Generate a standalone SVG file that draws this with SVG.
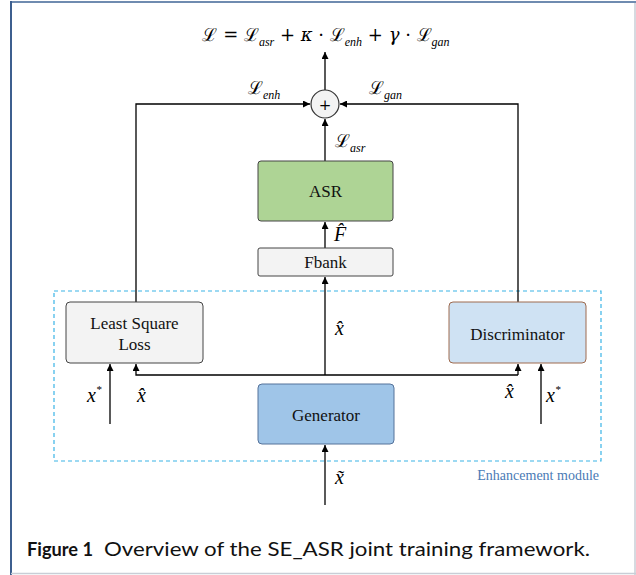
<svg xmlns="http://www.w3.org/2000/svg" width="636" height="575" viewBox="0 0 636 575">
<defs>
<marker id="ah" viewBox="0 0 10 10" refX="10" refY="5" markerWidth="7" markerHeight="7" markerUnits="userSpaceOnUse" orient="auto">
<path d="M0,0 L10,5 L0,10 z" fill="#000"/>
</marker>
</defs>
<style>
.ln{fill:none;stroke:#000;stroke-width:1.3}
.box{stroke:#444;stroke-width:1}
.lbl{font-family:"Liberation Serif",serif;font-size:17px;fill:#111}
.m{font-family:"DejaVu Serif","Liberation Serif",serif;font-size:18px;fill:#000}
.mi{font-family:"Liberation Serif",serif;font-style:italic;font-size:20px;fill:#000}
.sub{font-family:"Liberation Serif",serif;font-style:italic;font-size:12px}
</style>
<rect x="0" y="0" width="636" height="575" fill="#fff"/>
<line x1="11" y1="2" x2="636" y2="2" stroke="#6f8bb0" stroke-width="2"/>
<line x1="11" y1="1" x2="11" y2="575" stroke="#3d5f8f" stroke-width="2"/>
<line x1="635" y1="3" x2="635" y2="575" stroke="#c8ced6" stroke-width="1.5"/>
<line x1="11" y1="573.5" x2="636" y2="573.5" stroke="#c8ced6" stroke-width="1.5"/>

<text class="m" x="326" y="41" text-anchor="middle">ℒ = ℒ<tspan class="sub" dy="5">asr</tspan><tspan dy="-5"> + </tspan><tspan font-style="italic">κ</tspan> · ℒ<tspan class="sub" dy="5">enh</tspan><tspan dy="-5"> + </tspan><tspan font-style="italic">γ</tspan> · ℒ<tspan class="sub" dy="5">gan</tspan></text>

<rect x="54" y="291" width="547" height="170" fill="none" stroke="#3ab4e6" stroke-width="1.2" stroke-dasharray="4,3"/>
<text x="599" y="480" text-anchor="end" font-family="Liberation Serif,serif" font-size="14" fill="#4a7ab5">Enhancement module</text>

<g id="connectors">
<line class="ln" x1="325" y1="90" x2="325" y2="52" marker-end="url(#ah)"/>
<polyline class="ln" points="136,302 136,104 310,104" marker-end="url(#ah)"/>
<polyline class="ln" points="518,302 518,104 340,104" marker-end="url(#ah)"/>
<line class="ln" x1="325" y1="161" x2="325" y2="119" marker-end="url(#ah)"/>
<line class="ln" x1="325" y1="248" x2="325" y2="222" marker-end="url(#ah)"/>
<line class="ln" x1="325" y1="375" x2="325" y2="277" marker-end="url(#ah)"/>
<polyline class="ln" points="518,375 136,375 136,364" marker-end="url(#ah)"/>
<line class="ln" x1="518" y1="375" x2="518" y2="364" marker-end="url(#ah)"/>
<line class="ln" x1="110" y1="424" x2="110" y2="364" marker-end="url(#ah)"/>
<line class="ln" x1="541" y1="424" x2="541" y2="364" marker-end="url(#ah)"/>
<line class="ln" x1="325" y1="505" x2="325" y2="445" marker-end="url(#ah)"/>
</g>

<g id="labels">
<text class="m" x="248" y="94">ℒ<tspan class="sub" dy="5">enh</tspan></text>
<text class="m" x="369" y="94">ℒ<tspan class="sub" dy="5">gan</tspan></text>
<text class="m" x="335" y="147">ℒ<tspan class="sub" dy="5">asr</tspan></text>
<text class="mi" x="334" y="241">F̂</text>
<text class="mi" x="335" y="335">x̂</text>
<text class="mi" x="87" y="402">x<tspan font-size="11" dy="-9">*</tspan></text>
<text class="mi" x="137" y="402">x̂</text>
<text class="mi" x="505" y="398">x̂</text>
<text class="mi" x="546" y="402">x<tspan font-size="11" dy="-9">*</tspan></text>
<text class="mi" x="335" y="484">x̃</text>
</g>

<g id="sum">
<circle cx="325" cy="104" r="14" fill="#f3f3f3" stroke="#333" stroke-width="1.2"/>
<text x="325" y="110" text-anchor="middle" font-family="DejaVu Serif,serif" font-size="15">+</text>
</g>

<g id="asr">
<rect class="box" x="258" y="161" width="135" height="60" rx="3" fill="#aed495"/>
<text class="lbl" x="325.5" y="197" text-anchor="middle">ASR</text>
</g>
<g id="fbank">
<rect class="box" x="258" y="248" width="135" height="28" rx="2" fill="#f3f3f3"/>
<text class="lbl" x="325.5" y="268" text-anchor="middle">Fbank</text>
</g>
<g id="lsl">
<rect class="box" x="66" y="302" width="137" height="61" rx="4" fill="#f3f3f3"/>
<text class="lbl" x="134.5" y="329" text-anchor="middle">Least Square</text>
<text class="lbl" x="134.5" y="350" text-anchor="middle">Loss</text>
</g>
<g id="disc">
<rect x="449" y="302" width="137" height="61" rx="4" fill="#cfe2f3" stroke="#9e6a4e" stroke-width="1"/>
<text class="lbl" x="517.5" y="340" text-anchor="middle">Discriminator</text>
</g>
<g id="gen">
<rect x="258" y="384" width="136" height="60" rx="4" fill="#9fc5e8" stroke="#55729a" stroke-width="1"/>
<text class="lbl" x="326" y="421" text-anchor="middle">Generator</text>
</g>

<text x="27" y="556" font-family="Lato,sans-serif" font-size="19" font-weight="bold" fill="#111" textLength="66" lengthAdjust="spacingAndGlyphs">Figure 1</text>
<text x="104" y="556" font-family="Lato,sans-serif" font-size="19" fill="#111" textLength="486" lengthAdjust="spacingAndGlyphs">Overview of the SE_ASR joint training framework.</text>
</svg>
